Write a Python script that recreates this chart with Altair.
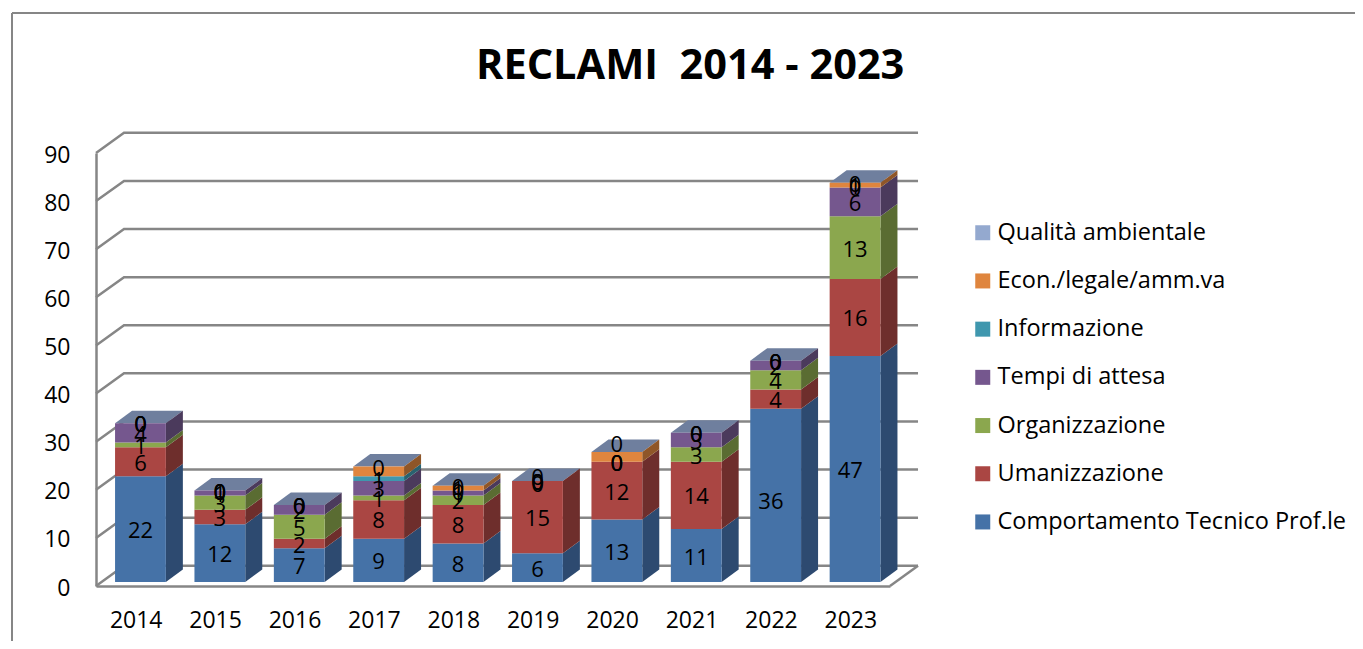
import altair as alt
import pandas as pd

years = [2014, 2015, 2016, 2017, 2018, 2019, 2020, 2021, 2022, 2023]
series_names = ["Comportamento Tecnico Prof.le", "Umanizzazione", "Organizzazione",
                "Tempi di attesa", "Informazione", "Econ./legale/amm.va", "Qualità ambientale"]
comportamento = [22, 12, 7, 9, 8, 6, 13, 11, 36, 47]
umanizzazione = [6, 3, 2, 8, 8, 15, 12, 14, 4, 16]
organizzazione = [1, 3, 5, 1, 2, 0, 0, 3, 4, 13]
tempi = [4, 1, 2, 3, 1, 0, 0, 3, 2, 6]
informazione = [0, 0, 0, 1, 0, 0, 0, 0, 0, 0]
economico = [0, 0, 0, 2, 1, 0, 2, 0, 0, 1]
qualita = [0, 0, 0, 0, 0, 0, 0, 0, 0, 0]
all_series = [comportamento, umanizzazione, organizzazione, tempi, informazione, economico, qualita]

front_colors = ["#4572A7", "#AA4643", "#8BA74E", "#75578E", "#3F97AE", "#DF853E", "#94A9CF"]
side_colors = ["#2D4A70", "#6E2E2C", "#5A6C32", "#4B3A5C", "#29626F", "#8F5628", "#5F6D85"]
top_color = "#6F7F9E"
grid_color = "#868686"

# labels that do not show in the source picture
hidden_labels = {(2020, series_names[5]), (2017, series_names[5]), (2020, series_names[6])}
# the free-floating label above the 2020 column
floating_labels = [(2020, 28.9, "0")]
# labels moved off their segment's centre in the source (years, values)
label_moves = {
    (2022, series_names[0]): (-0.06, -1.0),
    (2023, series_names[0]): (-0.06, 0.0),
    (2019, series_names[6]): (0.0, 1.0),
    (2019, series_names[5]): (0.0, -0.4),
}

x_lo, x_hi = 2013.5, 2023.5
wall_dx, wall_dy = 0.353, 4.2
bar_dx, bar_dy = 0.214, 2.6
bar_base = 0.83
bar_left, bar_right = -0.26, 0.38
gridvals = list(range(0, 100, 10))

x_scale = alt.Scale(domain=[x_lo, x_hi], nice=False, zero=False)
y_scale = alt.Scale(domain=[0, 90], nice=False, zero=False)

# walls
grid_rows = []
for v in gridvals:
    grid_rows += [
        {"g": f"v{v}", "i": 0, "x": x_lo, "y": v},
        {"g": f"v{v}", "i": 1, "x": x_lo + wall_dx, "y": v + wall_dy},
        {"g": f"v{v}", "i": 2, "x": x_hi + wall_dx, "y": v + wall_dy},
    ]
grid_rows += [
    {"g": "floor", "i": 0, "x": x_hi, "y": 0},
    {"g": "floor", "i": 1, "x": x_hi + wall_dx, "y": wall_dy},
]
grid_df = pd.DataFrame(grid_rows)

# bars
front, side, top, labels = [], [], [], []
for yi, yr in enumerate(years):
    cum = bar_base
    for si, name in enumerate(series_names):
        val = all_series[si][yi]
        lo, hi = cum, cum + val
        xl, xr = yr + bar_left, yr + bar_right
        if val > 0:
            front.append({"series": name, "x": xl, "x2": xr, "y": lo, "y2": hi})
            key = f"{yr}-{si}"
            side.append({"k": key, "c": side_colors[si], "x": xr, "y": lo, "y2": hi})
            side.append({"k": key, "c": side_colors[si], "x": xr + bar_dx, "y": lo + bar_dy, "y2": hi + bar_dy})
        if (yr, name) not in hidden_labels:
            mx, my = label_moves.get((yr, name), (0.0, 0.0))
            labels.append({"x": (xl + xr) / 2 + mx, "y": (lo + hi) / 2 + my, "t": str(val)})
        cum = hi
    key = str(yr)
    top.append({"k": key, "y": cum, "x": yr + bar_left, "x2": yr + bar_right})
    top.append({"k": key, "y": cum + bar_dy, "x": yr + bar_left + bar_dx, "x2": yr + bar_right + bar_dx})

for yr, v, t in floating_labels:
    labels.append({"x": yr + (bar_left + bar_right) / 2, "y": bar_base + v, "t": t})

font = "Open Sans"

x_axis = alt.Axis(values=years, format="d", title=None, grid=False, ticks=False,
                  domainColor=grid_color, domainWidth=2.5, labelFont=font, labelFontSize=23,
                  labelColor="#000000", labelPadding=23, labelOverlap=False, labelFlush=False)
y_axis = alt.Axis(values=gridvals, title=None, grid=False, ticks=False,
                  domainColor=grid_color, domainWidth=2.5, labelFont=font, labelFontSize=23,
                  labelColor="#000000", labelPadding=26, labelOffset=2)

walls = alt.Chart(grid_df).mark_line(color=grid_color, strokeWidth=2.5).encode(
    x=alt.X("x:Q", scale=x_scale, axis=x_axis),
    y=alt.Y("y:Q", scale=y_scale, axis=y_axis),
    detail="g:N",
    order="i:Q",
)

front_layer = alt.Chart(pd.DataFrame(front)).mark_rect().encode(
    x=alt.X("x:Q", scale=x_scale, axis=x_axis),
    x2="x2:Q",
    y=alt.Y("y:Q", scale=y_scale, axis=y_axis),
    y2="y2:Q",
    color=alt.Color("series:N",
                    scale=alt.Scale(domain=series_names[::-1], range=front_colors[::-1]),
                    legend=alt.Legend(title=None, orient="none", legendX=875, legendY=68,
                                      symbolType="square", symbolSize=225, symbolStrokeWidth=0,
                                      labelFont=font, labelFontSize=23.5, labelColor="#000000",
                                      labelOffset=3, rowPadding=23.2, labelLimit=500, columns=1)),
)

side_layer = alt.Chart(pd.DataFrame(side)).mark_area(interpolate="linear").encode(
    x=alt.X("x:Q", scale=x_scale, axis=x_axis),
    y=alt.Y("y:Q", scale=y_scale, axis=y_axis, stack=None),
    y2="y2:Q",
    color=alt.Color("c:N", scale=None),
    detail="k:N",
)

top_layer = alt.Chart(pd.DataFrame(top)).mark_area(orient="horizontal", color=top_color, interpolate="linear").encode(
    y=alt.Y("y:Q", scale=y_scale, axis=y_axis),
    x=alt.X("x:Q", scale=x_scale, axis=x_axis, stack=None),
    x2="x2:Q",
    detail="k:N",
)

text_layer = alt.Chart(pd.DataFrame(labels)).mark_text(
    font=font, fontSize=22, color="#000000", baseline="middle", align="center", dy=2
).encode(
    x=alt.X("x:Q", scale=x_scale, axis=x_axis),
    y=alt.Y("y:Q", scale=y_scale, axis=y_axis),
    text="t:N",
)

border_top = alt.Chart(pd.DataFrame({"a": [0]})).mark_rule(color=grid_color, strokeWidth=2).encode(
    x=alt.value(-84), x2=alt.value(1259), y=alt.value(-140))
border_left = alt.Chart(pd.DataFrame({"a": [0]})).mark_rule(color=grid_color, strokeWidth=2).encode(
    x=alt.value(-84), y=alt.value(-140), y2=alt.value(488))

chart = alt.layer(border_top, border_left, walls, top_layer, side_layer, front_layer, text_layer).properties(
    width=794, height=433,
    autosize=alt.AutoSizeParams(type="none"),
    padding={"left": 88, "top": 145, "right": 465, "bottom": 55},
    title=alt.TitleParams("RECLAMI\u00a0\u00a02014 - 2023", font=font, fontSize=41.5, fontWeight="bold",
                          color="#000000", anchor="start", dx=380, dy=75, offset=0, frame="group"),
).configure_view(stroke=None)

chart.save("out.html", embed_options={"renderer": "svg", "actions": False})
